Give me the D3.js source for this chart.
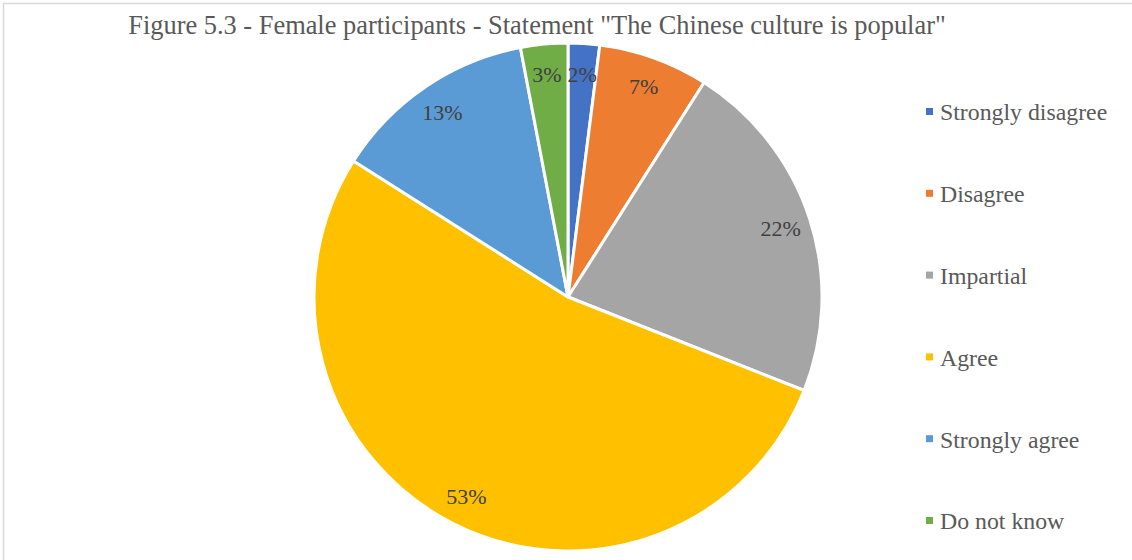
<!DOCTYPE html>
<html>
<head>
<meta charset="utf-8">
<script src="https://cdn.jsdelivr.net/npm/d3@7/dist/d3.min.js"></script>
<style>
  html, body { margin: 0; padding: 0; background: #fff; }
  svg { display: block; }
</style>
</head>
<body>
<svg id="chart" width="1132" height="560"></svg>
<script>
// Survey responses (percent of female participants)
const categories = ["Strongly disagree", "Disagree", "Impartial", "Agree", "Strongly agree", "Do not know"];
const values = [2, 7, 22, 53, 13, 3];
const colors = ["#4472C4", "#ED7D31", "#A5A5A5", "#FFC000", "#5B9BD5", "#70AD47"];
const title = "Figure 5.3 - Female participants - Statement \"The Chinese culture is popular\"";

const svg = d3.select("#chart");
const W = 1132, H = 560;
const font = "'Liberation Serif', 'Times New Roman', serif";

// chart frame
svg.append("path")
  .attr("d", `M3.5,${H} L3.5,3.5 L${W},3.5`)
  .attr("fill", "none")
  .attr("stroke", "#d9d9d9")
  .attr("stroke-width", 1.5);

// title
svg.append("text")
  .attr("x", 537)
  .attr("y", 34)
  .attr("text-anchor", "middle")
  .attr("font-family", font)
  .attr("font-size", 26.4)
  .attr("fill", "#595959")
  .text(title);

const cx = 568, cy = 297, R = 254;
const data = categories.map((c, i) => ({ name: c, value: values[i], color: colors[i] }));

const pie = d3.pie().value(d => d.value).sort(null);
const arc = d3.arc().innerRadius(0).outerRadius(R);
const labelArc = d3.arc().innerRadius(R * 0.88).outerRadius(R * 0.88);

const g = svg.append("g").attr("transform", `translate(${cx},${cy})`);
const arcs = pie(data);

g.selectAll("path.slice")
  .data(arcs)
  .join("path")
  .attr("class", "slice")
  .attr("d", arc)
  .attr("fill", d => d.data.color)
  .attr("stroke", "#fff")
  .attr("stroke-width", 3)
  .attr("stroke-linejoin", "round");

g.selectAll("text.lbl")
  .data(arcs)
  .join("text")
  .attr("class", "lbl")
  .attr("transform", d => `translate(${labelArc.centroid(d)})`)
  .attr("text-anchor", "middle")
  .attr("dy", "0.35em")
  .attr("font-family", font)
  .attr("font-size", 22)
  .attr("fill", "#404040")
  .text(d => d.data.value + "%");

// legend
const legend = svg.append("g");
const ly = d3.scalePoint().domain(categories).range([112, 521]);
const items = legend.selectAll("g")
  .data(data)
  .join("g")
  .attr("transform", d => `translate(926,${ly(d.name)})`);
items.append("rect")
  .attr("x", 0).attr("y", -4)
  .attr("width", 7).attr("height", 7)
  .attr("fill", d => d.color);
items.append("text")
  .attr("x", 14)
  .attr("dy", "0.35em")
  .attr("font-family", font)
  .attr("font-size", 23.8)
  .attr("fill", "#595959")
  .text(d => d.name);
</script>
</body>
</html>
